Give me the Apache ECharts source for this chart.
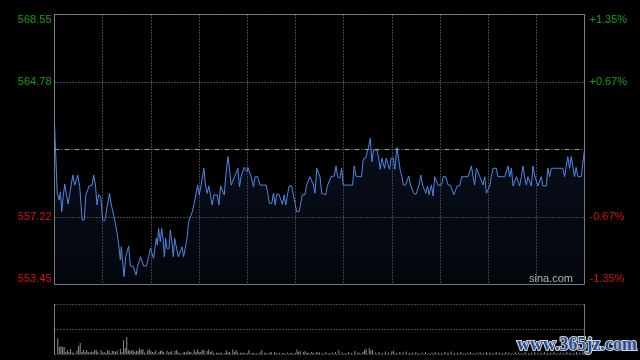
<!DOCTYPE html>
<html>
<head>
<meta charset="utf-8">
<script src="https://cdn.jsdelivr.net/npm/echarts@6/dist/echarts.min.js"></script>
<style>
html,body{margin:0;padding:0;background:#000;}
#c{width:640px;height:360px;}
</style>
</head>
<body>
<div id="c"></div>
<script>
// Previous close (centre line) and axis tick labels
var prevClose = 561.00;
var priceLabels = ['553.45', '557.22', '', '564.78', '568.55'];
var pctLabels = ['-1.35%', '-0.67%', '', '+0.67%', '+1.35%'];

// Minutes since open (HK session, 0..330) and prices
var times = [0,1.7,2.9,3.7,4.5,5.4,6.4,7.5,8.5,9.9,11.4,12.6,13.7,14.5,15.7,17.2,18.5,19.5,20.5,21.6,23.4,24.4,25.5,26.5,27.5,28.8,30.0,31.3,32.8,34.2,35.2,36.2,37.5,39.0,40.0,41.0,41.6,42.7,43.3,44.3,45.4,46.2,47.2,48.9,49.9,50.8,51.6,52.6,53.6,54.5,55.5,57.2,58.6,59.7,60.7,61.7,62.8,63.4,64.0,64.8,65.9,66.7,67.6,68.4,69.2,70.0,71.3,72.1,73.2,74.0,74.8,76.0,77.1,78.3,79.4,80.4,81.4,82.5,83.5,84.7,85.8,87.0,88.1,89.1,90.1,91.2,92.2,93.0,94.0,95.1,96.1,97.1,98.2,99.3,100.5,101.3,102.4,103.4,104.6,105.7,106.7,108.0,108.9,110.0,111.1,112.1,113.1,114.2,115.2,116.2,117.3,118.1,119.1,119.8,120.4,121.4,122.4,123.9,124.9,126.4,128.0,130.1,131.8,132.8,133.8,135.3,136.3,137.4,138.4,139.8,140.9,141.9,143.0,144.0,145.2,146.1,147.7,148.7,149.8,150.8,152.3,153.3,154.3,156.0,157.0,158.0,159.1,160.2,161.2,162.2,163.3,164.3,165.3,166.4,167.4,168.9,169.9,171.1,172.2,173.2,174.2,175.3,176.3,177.7,178.8,179.8,180.9,182.3,184.0,185.6,186.6,187.7,189.1,191.2,192.2,193.7,194.7,195.6,196.6,197.6,198.7,199.9,200.9,202.0,202.8,203.9,204.7,205.5,206.5,207.6,208.6,209.6,210.9,211.9,213.2,214.2,215.2,216.3,217.3,218.6,219.6,220.6,221.7,222.9,223.7,225.0,226.0,227.0,228.1,229.2,230.1,231.2,232.3,233.2,234.7,235.7,236.8,238.8,241.0,242.0,243.6,245.1,246.6,247.5,248.6,249.7,250.7,252.3,253.6,255.4,257.5,258.5,259.6,260.6,261.6,262.7,263.7,264.8,265.8,266.8,267.9,268.9,269.9,271.0,272.0,273.0,275.1,276.1,278.2,280.3,281.4,282.4,283.4,284.5,285.5,286.6,287.6,288.6,289.6,290.7,291.7,292.7,293.8,294.8,295.8,296.9,297.9,298.9,300.0,301.0,302.0,303.1,304.1,305.2,306.2,307.2,308.3,309.3,310.3,312.4,314.5,316.5,317.6,318.6,319.6,320.7,321.7,322.7,323.8,324.8,325.9,326.9,327.9,330];
var prices = [562.47,558.57,558.18,558.64,557.52,558.36,559.07,558.46,557.95,558.73,559.57,559.01,559.01,559.57,558.92,557.06,557.06,558.46,558.51,558.96,559.01,559.57,559.01,557.90,558.46,558.36,557.06,557.02,557.80,558.55,557.99,557.95,557.06,556.33,555.66,554.82,555.56,554.44,553.89,555.00,555.00,555.60,554.48,554.48,554.44,553.98,554.44,554.54,555.00,555.00,554.48,554.48,555.00,555.47,555.47,554.91,555.66,556.03,555.66,556.59,555.84,556.59,556.03,555.00,556.03,555.47,555.47,556.50,555.75,555.00,556.03,556.03,555.00,555.00,555.56,555.00,555.00,556.03,556.96,556.96,557.52,557.99,557.99,559.01,558.46,558.96,558.96,559.95,559.01,558.55,558.96,558.46,557.90,558.46,558.46,558.46,557.90,558.96,558.96,558.46,559.57,560.60,559.95,559.01,559.01,559.48,559.48,559.95,558.92,559.48,559.57,560.00,559.95,559.76,560.00,560.00,559.48,558.92,559.48,559.48,559.01,559.01,559.01,558.55,557.99,557.99,558.55,557.90,558.49,558.49,558.49,557.94,558.46,557.90,558.55,558.96,558.96,558.46,557.99,557.52,557.52,557.99,558.46,558.49,559.01,559.01,559.48,559.48,559.01,558.55,559.95,560.00,559.48,558.55,558.46,558.46,558.96,558.96,559.48,559.48,559.52,560.08,559.48,559.39,559.95,559.01,559.01,559.01,559.01,559.01,560.08,559.52,559.48,559.48,560.45,560.51,560.51,561.16,561.63,560.32,560.97,560.97,560.97,560.41,559.89,560.51,560.51,559.95,560.51,560.45,559.89,560.51,560.51,559.89,561.12,560.51,559.89,559.48,559.01,559.01,559.01,559.52,559.01,559.01,558.55,558.49,558.49,559.01,559.57,559.01,558.96,558.55,558.96,558.46,559.01,558.40,559.48,559.01,559.01,559.48,559.48,559.01,559.01,558.96,558.46,558.46,558.96,558.96,559.48,559.48,559.48,559.48,560.08,559.48,559.01,559.95,559.95,559.48,559.48,559.01,559.48,558.55,558.46,558.96,559.48,559.95,559.95,559.48,559.48,559.48,559.48,560.08,559.48,559.95,558.96,558.96,559.48,559.48,558.96,559.48,560.08,559.48,559.01,559.48,559.48,558.96,560.08,559.57,559.48,558.96,558.96,559.48,558.96,558.96,558.96,559.95,559.48,559.95,559.95,559.95,559.95,559.95,559.48,559.48,560.60,559.95,560.60,560.08,559.48,560.00,559.48,559.48,559.48,560.97];

// Volume bars: minute and volume (arbitrary units, axis max 50)
var volTimes = [0,2,3,4,5,6,7,8,9,10,11,12,14,15,16,17,18,19,20,21,22,23,24,25,26,27,29,30,31,32,33,34,35,36,37,38,39,41,42,43,44,45,46,47,48,49,50,51,52,53,54,55,56,58,59,60,61,62,63,65,66,67,68,70,71,72,73,75,76,77,78,80,81,82,83,84,85,87,88,89,90,91,92,93,95,96,97,98,99,101,102,103,104,106,107,108,109,111,112,113,114,116,117,118,120,121,123,124,126,128,129,131,132,134,135,137,138,140,142,143,145,147,148,150,151,152,153,155,156,157,158,160,161,163,164,165,167,169,171,173,175,177,179,181,183,185,187,189,190,192,193,194,196,197,198,200,202,204,206,208,210,211,213,215,217,219,221,223,225,227,229,231,233,235,237,239,241,243,245,247,249,251,253,255,257,259,261,263,265,267,269,271,273,275,277,279,281,283,285,287,289,291,293,295,297,299,301,303,305,307,309,311,313,315,317,319,321,323,325,327,329,330];
var volumes = [25,16,7,8,7,7,2,4,2,5,1.5,1,3.5,8,11,2,4,2,4,2,1.5,2.5,2,4,4,2,4,1.5,2,1,3.5,3.5,1,3,3,2,3.5,5,2,14,6,17,4,3,3.5,4,2,3.5,3,6,4,5,1.5,3.5,5,3,2,1.5,3.5,2,3,3.5,2,3.5,1.5,2,3,3,4,1.5,1,1.5,2,1.5,3,2,2,4.5,2,4.5,2,2,4,4,3,4.5,2,3,1,1.5,1,1,1.5,1,3.5,1.5,2,4.5,2,4,1.5,1.5,1,1.5,1,4,1,1,1,1.5,4,1.5,1,1.5,2,2,1,1,1,1,1.5,1,1,1,4.5,2,3,2,3,1,1.5,2,1.5,2,1.5,1.5,1,2,1,1.5,2,4,1.5,1,2,1,3,1.5,1,2,4,5.5,6,3.5,4,1.5,2,1,2.5,1.5,2.5,3,1,2,1.5,2.5,1,1.5,2,1,1.5,2,1,1.5,2,1.5,1,2,1.5,2.5,1,1.5,2,1,1.5,2,1,1.5,2,1,2,1.5,1,2,1.5,1,2,1.5,1,2,1.5,1,2,1,1.5,2,1,1.5,2,1,1.5,2,1,1.5,1,2,1.5,1,2,1.5,2.5,3];

var GREEN = '#11a011', RED = '#d41010', GRID = '#8a8a8a', BORDER = '#7a7a7a';
var FONT = '"Liberation Sans", Arial, sans-serif';
function labColor(v, i) { return i < 2 ? RED : GREEN; }

var lineData = times.map(function (t, i) { return [t, +(prices[i] - prevClose).toFixed(4)]; });
var volData = volTimes.map(function (t, i) { return [t, volumes[i]]; });

var chart = echarts.init(document.getElementById('c'), null, {renderer: 'canvas'});
chart.setOption({
  backgroundColor: '#000',
  animation: false,
  grid: [
    {left: 54.5, top: 14.5, width: 530, height: 270, show: true, borderColor: BORDER, borderWidth: 1, backgroundColor: 'transparent'},
    {left: 54.5, top: 304.5, width: 530, height: 49.5, show: false}
  ],
  xAxis: [
    {type: 'value', gridIndex: 0, min: 0, max: 330, interval: 30,
     axisLine: {show: false}, axisTick: {show: false}, axisLabel: {show: false},
     splitLine: {show: true, lineStyle: {color: GRID, type: [1, 2], width: 1}}},
    {type: 'value', gridIndex: 1, min: 0, max: 330, interval: 30,
     axisLine: {show: false}, axisTick: {show: false}, axisLabel: {show: false}, splitLine: {show: false}}
  ],
  yAxis: [
    {type: 'value', gridIndex: 0, min: -7.55, max: 7.55, interval: 3.775, position: 'left',
     axisLine: {show: false}, axisTick: {show: false},
     axisLabel: {show: true, margin: 3, fontSize: 11, fontFamily: FONT,
       formatter: function (v, i) { return priceLabels[i]; }, color: labColor,
       verticalAlignMinLabel: 'bottom', verticalAlignMaxLabel: 'top'},
     splitLine: {show: true, lineStyle: {color: [GRID, GRID, 'rgba(0,0,0,0)', GRID, GRID], type: [1, 2], width: 1}}},
    {type: 'value', gridIndex: 0, min: -7.55, max: 7.55, interval: 3.775, position: 'right',
     axisLine: {show: false}, axisTick: {show: false},
     axisLabel: {show: true, margin: 5, fontSize: 11, fontFamily: FONT,
       formatter: function (v, i) { return pctLabels[i]; }, color: labColor,
       verticalAlignMinLabel: 'bottom', verticalAlignMaxLabel: 'top'},
     splitLine: {show: false}},
    {type: 'value', gridIndex: 1, min: 0, max: 50, interval: 25, position: 'left',
     axisLine: {show: true, lineStyle: {color: BORDER, width: 1}}, axisTick: {show: false}, axisLabel: {show: false},
     splitLine: {show: true, lineStyle: {color: GRID, type: [1, 2], width: 1}}},
    {type: 'value', gridIndex: 1, min: 0, max: 50, interval: 25, position: 'right',
     axisLine: {show: true, lineStyle: {color: BORDER, width: 1}}, axisTick: {show: false}, axisLabel: {show: false},
     splitLine: {show: false}}
  ],
  series: [
    {type: 'line', xAxisIndex: 0, yAxisIndex: 0, data: lineData, symbol: 'none', silent: true,
     lineStyle: {color: '#4d88e6', width: 1},
     areaStyle: {origin: 'start', color: new echarts.graphic.LinearGradient(0, 0, 0, 1, [
       {offset: 0, color: 'rgba(40,70,130,0.32)'}, {offset: 1, color: 'rgba(20,40,80,0.22)'}])},
     markLine: {silent: true, symbol: 'none', label: {show: false},
       lineStyle: {color: '#9a9a9a', type: [5, 2, 1, 2], width: 1},
       data: [{yAxis: 0}]}},
    {type: 'bar', xAxisIndex: 1, yAxisIndex: 2, data: volData, barWidth: 1, silent: true, z: 5,
     itemStyle: {color: '#8c8c8c'}}
  ],
  graphic: [
    {type: 'text', right: 67, top: 273, silent: true,
     style: {text: 'sina.com', fill: '#c8c8c8', font: '11px ' + FONT}},
    {type: 'text', left: 516, top: 335, silent: true,
     style: {text: 'www.365jz.com', fill: '#1f4f9e', stroke: '#d8d8d8', lineWidth: 2,
       font: 'bold 18px "Liberation Serif", "Times New Roman", serif'}}
  ]
});
</script>
</body>
</html>
